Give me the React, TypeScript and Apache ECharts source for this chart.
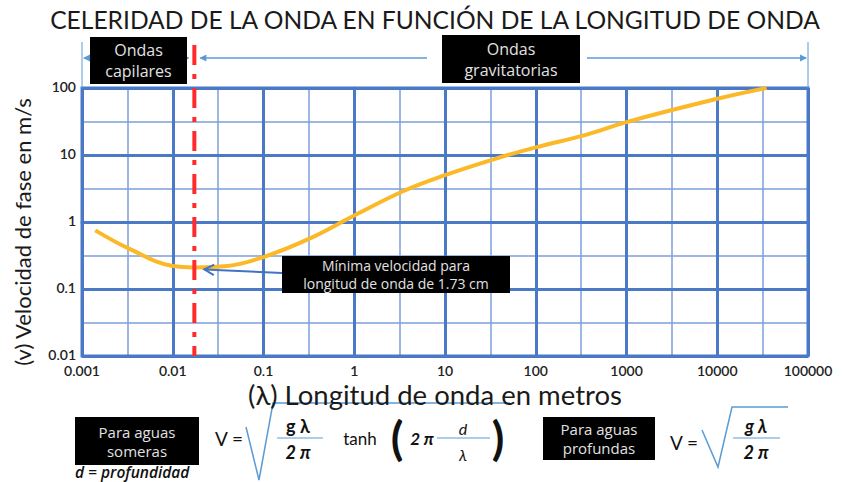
import React, { useEffect, useRef } from "react";
import * as echarts from "echarts";

// ---- data ----
const WAVELENGTH_M = [0.0014, 0.0033, 0.01, 0.0173, 0.04, 0.1, 0.316, 1, 3.5, 10, 35, 100, 355, 1000, 10000, 35000];
const PHASE_SPEED = [0.75, 0.4, 0.22, 0.21, 0.22, 0.3, 0.56, 1.25, 2.9, 5.0, 8.7, 13, 20, 31, 69, 100];
const X_TICK_LABELS = ["0.001", "0.01", "0.1", "1", "10", "100", "1000", "10000", "100000"];
const Y_TICK_LABELS = ["0.01", "0.1", "1", "10", "100"];
const MIN_WAVELENGTH = 0.0173;
const MIN_SPEED = 0.21;

const TITLE = "CELERIDAD DE LA ONDA EN FUNCIÓN DE LA LONGITUD DE ONDA";
const X_NAME = "(λ) Longitud de onda en metros";
const Y_NAME = "(v) Velocidad de fase en m/s";

const MAJOR = "#4a79c6";
const MINOR = "#7c9fdb";
const ARROW_BLUE = "#5b9bd5";
const CURVE = "#fbb827";
const FONT = "Lato, 'Open Sans', sans-serif";
const BOX_FONT = "'Open Sans', Lato, sans-serif";

const GL = 82;
const GR = 808;
const GT = 88;
const GB = 356;

function box(x: number, y: number, w: number, h: number, text: string, fs: number, lh: number) {
  return [
    { type: "rect", shape: { x, y, width: w, height: h }, style: { fill: "#000" }, z: 20 },
    {
      type: "text",
      x: x + w / 2,
      y: y + h / 2,
      z: 21,
      style: { text, fill: "#e2e2e2", fontSize: fs, lineHeight: lh, fontFamily: BOX_FONT, textAlign: "center", textVerticalAlign: "middle" },
    },
  ];
}

function txt(x: number, y: number, text: string, fs: number, extra: any = {}) {
  return {
    type: "text",
    x,
    y,
    z: 22,
    style: { text, fill: "#111", fontSize: fs, fontFamily: FONT, textAlign: "center", textVerticalAlign: "middle", ...extra },
  };
}

function hline(x1: number, x2: number, y: number, color: string, w = 1) {
  return { type: "line", z: 20, shape: { x1, y1: y, x2, y2: y }, style: { stroke: color, lineWidth: w } };
}

function tri(x: number, y: number, dir: number) {
  return {
    type: "polygon",
    z: 20,
    shape: { points: [[x, y], [x - dir * 7, y - 3.5], [x - dir * 7, y + 3.5]] },
    style: { fill: ARROW_BLUE },
  };
}

function buildGraphic(mx: number, my: number) {
  const g: any[] = [];
  // title
  g.push(txt(435, 19, TITLE, 24.6, { fill: "#1a1a1a" }));
  // top band
  g.push({ type: "line", z: 19, shape: { x1: GL, y1: 42, x2: GL, y2: GT }, style: { stroke: ARROW_BLUE, lineWidth: 1 } });
  g.push({ type: "line", z: 19, shape: { x1: GR, y1: 42, x2: GR, y2: GT }, style: { stroke: ARROW_BLUE, lineWidth: 1 } });
  g.push(hline(GL + 2, mx - 6, 58, ARROW_BLUE, 1.5));
  g.push(tri(GL + 1, 58, -1));
  g.push(tri(mx - 5, 58, 1));
  g.push(hline(mx + 6, 427, 58, ARROW_BLUE, 1.5));
  g.push(tri(mx + 5, 58, -1));
  g.push(hline(587, GR - 2, 58, ARROW_BLUE, 1.5));
  g.push(tri(GR - 1, 58, 1));
  g.push(...box(90, 37, 97, 47, "Ondas\ncapilares", 16, 21));
  g.push(...box(442, 35, 138, 48, "Ondas\ngravitatorias", 16, 21));
  // red dash-dot line at minimum wavelength
  g.push({
    type: "line",
    z: 25,
    shape: { x1: mx, y1: 45, x2: mx, y2: GB },
    style: { stroke: "#ff2b2b", lineWidth: 4, lineDash: [20, 9, 5, 9] },
  });
  // annotation
  g.push(...box(282, 256, 228, 37, "Mínima velocidad para\nlongitud de onda de 1.73 cm", 14, 18));
  const tipX = mx + 10;
  const tipY = my + 2;
  const sx = 282;
  const sy = 273;
  const ang = Math.atan2(sy - tipY, sx - tipX);
  const L = 11;
  const a1 = ang + 0.5;
  const a2 = ang - 0.5;
  g.push({ type: "line", z: 22, shape: { x1: sx, y1: sy, x2: tipX, y2: tipY }, style: { stroke: "#4472c4", lineWidth: 2 } });
  g.push({
    type: "polyline",
    z: 22,
    shape: { points: [[tipX + L * Math.cos(a1), tipY + L * Math.sin(a1)], [tipX, tipY], [tipX + L * Math.cos(a2), tipY + L * Math.sin(a2)]] },
    style: { stroke: "#4472c4", lineWidth: 2, fill: "none" },
  });
  // axis names
  g.push(txt(435, 394, X_NAME, 27.5, { fill: "#1a1a1a" }));
  g.push({ ...txt(22, 232, Y_NAME, 22, { fill: "#1a1a1a" }), rotation: Math.PI / 2 });
  // formula: shallow water
  g.push(...box(75, 417, 124, 48, "Para aguas\nsomeras", 15, 19));
  g.push(txt(75, 472, "d = profundidad", 15.5, { textAlign: "left", fontStyle: "italic", fontWeight: 600, fontFamily: BOX_FONT, lineHeight: 14 }));
  g.push(txt(229, 438, "V =", 19));
  g.push({ type: "polyline", z: 20, shape: { points: [[246, 427], [259, 480], [273, 403], [510, 403]] }, style: { stroke: ARROW_BLUE, lineWidth: 1.5, fill: "none" } });
  g.push(txt(298, 426, "g λ", 18, { fontWeight: "bold" }));
  g.push(hline(277, 323, 438, ARROW_BLUE, 1));
  g.push(txt(298, 452, "2 π", 18, { fontWeight: "bold", fontStyle: "italic" }));
  g.push(txt(360, 438, "tanh", 17));
  g.push(txt(397, 437, "(", 46, { fontWeight: "bold" }));
  g.push(txt(422, 438, "2 π", 17, { fontWeight: "bold", fontStyle: "italic" }));
  g.push(hline(437, 490, 438, ARROW_BLUE, 1));
  g.push(txt(463, 428, "d", 16, { fontStyle: "italic" }));
  g.push(txt(463, 454, "λ", 16, { fontStyle: "italic" }));
  g.push(txt(498, 437, ")", 46, { fontWeight: "bold" }));
  // formula: deep water
  g.push(...box(543, 417, 112, 43, "Para aguas\nprofundas", 15, 19));
  g.push(txt(684, 442, "V =", 19));
  g.push({ type: "polyline", z: 20, shape: { points: [[702, 430], [718, 467], [732, 407], [788, 407]] }, style: { stroke: ARROW_BLUE, lineWidth: 1.5, fill: "none" } });
  g.push(txt(756, 426, "g λ", 18, { fontWeight: "bold", fontStyle: "italic" }));
  g.push(hline(733, 780, 438, ARROW_BLUE, 1));
  g.push(txt(756, 452, "2 π", 18, { fontWeight: "bold", fontStyle: "italic" }));
  return g;
}

export default function App() {
  const ref = useRef<HTMLDivElement>(null);
  useEffect(() => {
    const chart = echarts.init(ref.current!, null, { renderer: "svg" });
    const option: any = {
      animation: false,
      grid: { left: GL, right: 844 - GR, top: GT, bottom: 482 - GB, show: true, borderColor: MAJOR, borderWidth: 3, z: 4 },
      xAxis: [
        {
          type: "log",
          logBase: 10,
          min: 0.001,
          max: 100000,
          splitNumber: 8,
          z: 3,
          axisLine: { show: true, lineStyle: { color: MAJOR, width: 3 } },
          axisTick: { show: false },
          axisLabel: {
            formatter: (v: number) => X_TICK_LABELS[Math.round(Math.log10(v)) + 3],
            color: "#222",
            fontSize: 14,
            fontFamily: FONT,
            fontWeight: 600,
            margin: 7,
          },
          splitLine: { show: true, lineStyle: { color: MAJOR, width: 3 } },
        },
        {
          type: "value",
          min: -3,
          max: 5,
          interval: 0.5,
          z: 1,
          axisLine: { show: false },
          axisTick: { show: false },
          axisLabel: { show: false },
          splitLine: { show: true, lineStyle: { color: ["rgba(0,0,0,0)", MINOR], width: 1.5 } },
        },
      ],
      yAxis: [
        {
          type: "log",
          logBase: 10,
          min: 0.01,
          max: 100,
          splitNumber: 4,
          z: 3,
          axisLine: { show: true, lineStyle: { color: MAJOR, width: 3 } },
          axisTick: { show: false },
          axisLabel: {
            formatter: (v: number) => Y_TICK_LABELS[Math.round(Math.log10(v)) + 2],
            color: "#222",
            fontSize: 14,
            fontFamily: FONT,
            fontWeight: 600,
            margin: 6,
            verticalAlign: "bottom",
            padding: [0, 0, -5, 0],
          },
          splitLine: { show: true, lineStyle: { color: MAJOR, width: 3 } },
        },
        {
          type: "value",
          min: -2,
          max: 2,
          interval: 0.5,
          z: 1,
          axisLine: { show: false },
          axisTick: { show: false },
          axisLabel: { show: false },
          splitLine: { show: true, lineStyle: { color: ["rgba(0,0,0,0)", MINOR], width: 1.5 } },
        },
      ],
      series: [
        {
          type: "line",
          xAxisIndex: 0,
          yAxisIndex: 0,
          data: WAVELENGTH_M.map((x, i) => [x, PHASE_SPEED[i]]),
          smooth: 0.4,
          showSymbol: false,
          z: 10,
          lineStyle: { color: CURVE, width: 4 },
        },
      ],
    };
    chart.setOption(option);
    const p = chart.convertToPixel({ seriesIndex: 0 }, [MIN_WAVELENGTH, MIN_SPEED]) as number[];
    chart.setOption({ graphic: buildGraphic(p[0], p[1]) });
    return () => chart.dispose();
  }, []);
  return <div ref={ref} style={{ position: "absolute", left: 0, top: 0, width: 844, height: 482, background: "#fff" }} />;
}
